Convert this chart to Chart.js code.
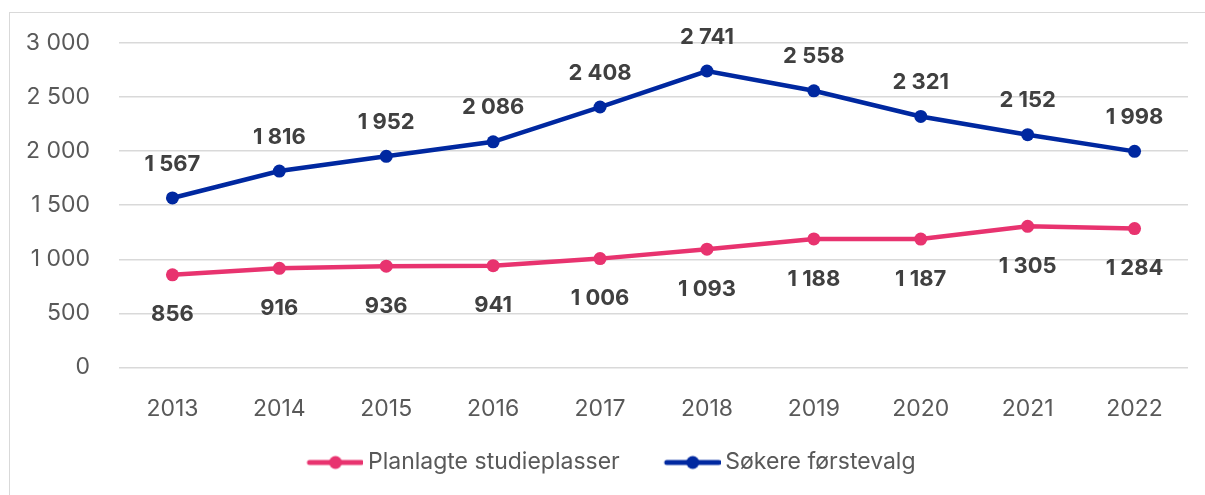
<!DOCTYPE html>
<html>
<head>
<meta charset="utf-8">
<script src="https://cdn.jsdelivr.net/npm/chart.js@4"></script>
<style>
  body { margin: 0; background: #fff; overflow: hidden; }
  .frame { position: absolute; left: 9px; top: 12px; width: 1400px; height: 700px; border: 1px solid #d9d9d9; }
  .wrap { position: absolute; left: 0; top: 0; width: 1205px; height: 495px; }
</style>
</head>
<body>
<div class="frame"></div>
<div class="wrap"><canvas id="chart"></canvas></div>
<script>
// data
const years = ['2013', '2014', '2015', '2016', '2017', '2018', '2019', '2020', '2021', '2022'];
const planlagte = [856, 916, 936, 941, 1006, 1093, 1188, 1187, 1305, 1284];
const sokere = [1567, 1816, 1952, 2086, 2408, 2741, 2558, 2321, 2152, 1998];
const yTicks = [0, 500, 1000, 1500, 2000, 2500, 3000];

const pink = '#e8336f';
const blue = '#0028a0';
const font = 'Inter, sans-serif';

// 1 567 style numbers
function fmt(v) {
  return String(v).replace(/\B(?=(\d{3})+(?!\d))/g, ' ');
}

// legend marker: line with a dot in the middle
function marker(color) {
  const c = document.createElement('canvas');
  c.width = 98; c.height = 16;
  const x = c.getContext('2d');
  x.strokeStyle = color;
  x.lineWidth = 5;
  x.lineCap = 'round';
  x.beginPath();
  x.moveTo(44, 8); x.lineTo(96, 8);
  x.stroke();
  x.fillStyle = color;
  x.beginPath();
  x.arc(70, 8, 6.5, 0, Math.PI * 2);
  x.fill();
  return c;
}

// value labels above / below the points
const valueLabels = {
  id: 'valueLabels',
  afterDatasetsDraw(chart) {
    const ctx = chart.ctx;
    ctx.save();
    ctx.font = 'bold 22px ' + font;
    ctx.fillStyle = '#404040';
    ctx.textAlign = 'center';
    ctx.textBaseline = 'middle';
    chart.data.datasets.forEach((ds, i) => {
      const meta = chart.getDatasetMeta(i);
      meta.data.forEach((pt, j) => {
        ctx.fillText(fmt(ds.data[j]), pt.x, pt.y + ds.labelOffset);
      });
    });
    ctx.restore();
  }
};

const ctx = document.getElementById('chart').getContext('2d');
const chart = new Chart(ctx, {
  type: 'line',
  data: {
    labels: years,
    datasets: [{
      label: 'Planlagte studieplasser',
      data: planlagte,
      borderColor: pink,
      backgroundColor: pink,
      borderWidth: 4.5,
      pointRadius: 6.5,
      pointBackgroundColor: pink,
      pointBorderWidth: 0,
      labelOffset: 40,
      pointStyle: 'circle'
    }, {
      label: 'Søkere førstevalg',
      data: sokere,
      borderColor: blue,
      backgroundColor: blue,
      borderWidth: 4.5,
      pointRadius: 6.5,
      pointBackgroundColor: blue,
      pointBorderWidth: 0,
      labelOffset: -34,
      pointStyle: 'circle'
    }]
  },
  options: {
    responsive: true,
    maintainAspectRatio: false,
    animation: false,
    layout: { padding: { left: 0, right: 17, top: 43, bottom: 11 } },
    elements: { line: { tension: 0 } },
    scales: {
      x: {
        offset: true,
        afterFit: s => { s.height -= 10; },
        grid: { display: false, drawTicks: false },
        border: { display: false },
        ticks: { color: '#595959', font: { family: font, size: 23 }, padding: 28 }
      },
      y: {
        min: 0,
        max: 3000,
        afterFit: s => { s.width = 119; },
        afterBuildTicks: s => { s.ticks = yTicks.map(v => ({ value: v })); },
        grid: { color: '#d9d9d9', lineWidth: 1.5, drawTicks: false },
        border: { display: false },
        ticks: {
          color: '#595959',
          font: { family: font, size: 23 },
          padding: 29,
          callback: v => fmt(v)
        }
      }
    },
    plugins: {
      tooltip: { enabled: false },
      legend: {
        position: 'bottom',
        labels: {
          color: '#595959',
          font: { family: font, size: 23 },
          usePointStyle: true,
          pointStyleWidth: 84,
          padding: 10,
          generateLabels: ch => ch.data.datasets.map((ds, i) => ({
            text: ds.label,
            datasetIndex: i,
            pointStyle: marker(ds.borderColor),
            fillStyle: ds.borderColor,
            strokeStyle: ds.borderColor,
            lineWidth: 0,
            fontColor: '#595959'
          }))
        }
      }
    }
  },
  plugins: [valueLabels]
});
</script>
</body>
</html>
